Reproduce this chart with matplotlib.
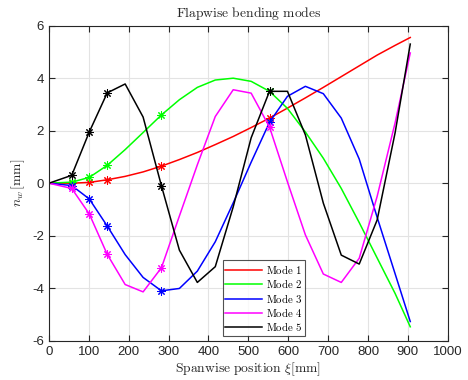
import matplotlib
matplotlib.use("Agg")
import matplotlib.pyplot as plt

plt.rcParams['mathtext.fontset'] = 'cm'
plt.rcParams['font.family'] = ['Liberation Sans', 'DejaVu Sans']

xi = [0, 57, 101, 146, 191, 236, 282, 327, 372, 417, 462, 507, 553, 598,
      643, 688, 733, 778, 823, 868, 906]

mode1 = [0.0, 0.0, 0.03, 0.13, 0.26, 0.43, 0.65, 0.90, 1.17, 1.47, 1.78,
         2.12, 2.48, 2.86, 3.25, 3.65, 4.06, 4.47, 4.88, 5.25, 5.55]
mode2 = [0.0, 0.04, 0.22, 0.68, 1.28, 1.93, 2.6, 3.18, 3.65, 3.93, 4.0,
         3.88, 3.5, 2.85, 1.95, 0.95, -0.2, -1.5, -2.85, -4.2, -5.47]
mode3 = [0.0, -0.09, -0.6, -1.63, -2.72, -3.59, -4.1, -4.01, -3.35, -2.23,
         -0.75, 0.8, 2.32, 3.31, 3.69, 3.41, 2.48, 0.92, -1.3, -3.45, -5.27]
mode4 = [0.0, -0.2, -1.17, -2.71, -3.86, -4.14, -3.22, -1.25, 0.7, 2.54,
         3.56, 3.43, 2.14, 0.05, -1.97, -3.46, -3.78, -2.86, -0.5, 2.3, 4.96]
mode5 = [0.0, 0.3, 1.95, 3.44, 3.78, 2.52, -0.1, -2.55, -3.78, -3.18, -0.9,
         1.73, 3.5, 3.5, 1.84, -0.76, -2.74, -3.08, -1.4, 1.92, 5.3]

modes = [mode1, mode2, mode3, mode4, mode5]
labels = ['Mode 1', 'Mode 2', 'Mode 3', 'Mode 4', 'Mode 5']
colors = ['#ff0000', '#00ff00', '#0000ff', '#ff00ff', '#000000']
marker_idx = [1, 2, 3, 6, 12]

xticks = list(range(0, 1001, 100))
yticks = list(range(-6, 7, 2))

fig = plt.figure(figsize=(4.68, 3.80), dpi=100)
ax = fig.add_axes([0.1047, 0.1034, 0.852, 0.829])

for y, lab, c in zip(modes, labels, colors):
    ax.plot(xi, y, color=c, lw=1.1, label=r'$\mathrm{' + lab.replace(' ', r'\ ') + '}$')
    ax.plot([xi[i] for i in marker_idx], [y[i] for i in marker_idx],
            linestyle='none', marker=(8, 2, 0), color=c, markersize=6,
            markeredgewidth=0.75)

ax.set_xlim(0, 1000)
ax.set_ylim(-6, 6)
ax.set_xticks(xticks)
ax.set_yticks(yticks)
ax.set_xticklabels([str(t) for t in xticks])
ax.set_yticklabels([str(t) for t in yticks])
ax.grid(True, color='#e3e3e3', lw=0.8)
ax.set_axisbelow(True)
ax.tick_params(direction='in', top=True, right=True, labelsize=9.5,
               colors='#262626', length=4, width=0.8)
for s in ax.spines.values():
    s.set_color('#262626')
    s.set_linewidth(0.8)

ax.set_title(r'$\mathrm{Flapwise\ bending\ modes}$', fontsize=9.8, pad=6,
             color='#262626')
ax.set_xlabel(r'$\mathrm{Spanwise\ position}\ \xi[\mathrm{mm}]$', fontsize=9.8,
              labelpad=2, color='#262626')
ax.set_ylabel(r'$n_w\,[\mathrm{mm}]$', fontsize=9.8, labelpad=4, color='#262626')

leg = ax.legend(loc='lower center', bbox_to_anchor=(0.5385, 0.0), fontsize=7.8,
                frameon=True, fancybox=False, edgecolor='#262626',
                handlelength=3.4, handletextpad=0.3, borderpad=0.25,
                labelspacing=0.12, borderaxespad=0.45)
leg.get_frame().set_linewidth(0.8)

fig.savefig('out.png', dpi=100)
